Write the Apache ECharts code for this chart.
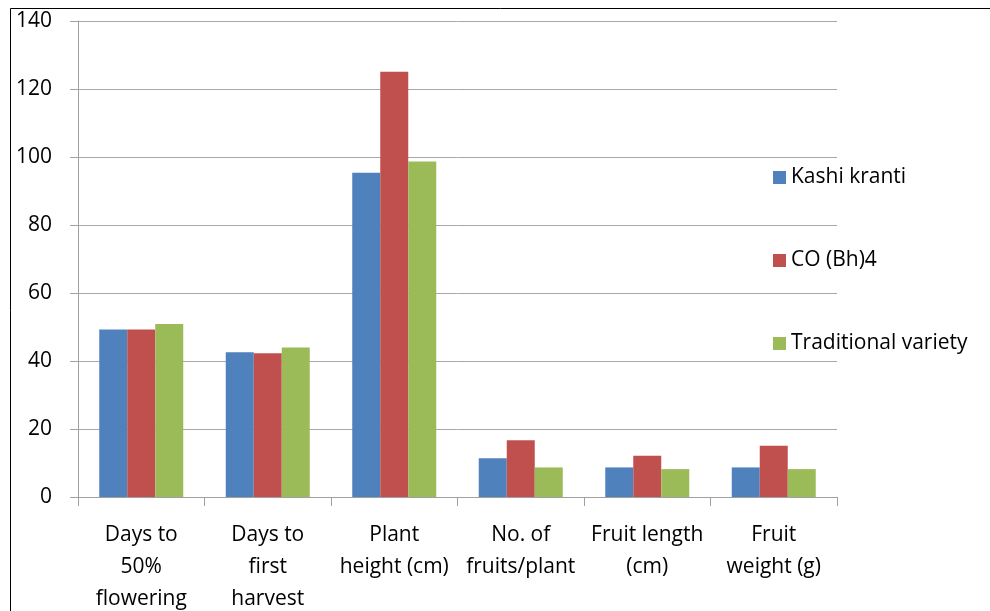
<!DOCTYPE html>
<html><head><meta charset="utf-8">
<script src="https://cdn.jsdelivr.net/npm/echarts@6/dist/echarts.min.js"></script>
<style>html,body{margin:0;padding:0;background:#fff}#c{width:990px;height:611px}</style>
</head><body><div id="c"></div>
<script>
const categories = ['Days to\n50%\nflowering','Days to\nfirst\nharvest','Plant\nheight (cm)','No. of\nfruits/plant','Fruit length\n(cm)','Fruit\nweight (g)'];
const seriesNames = ['Kashi kranti','CO (Bh)4','Traditional variety'];
const kashiKranti = [49.3, 42.6, 95.4, 11.4, 8.7, 8.7];
const coBh4 = [49.3, 42.3, 125.1, 16.7, 12.1, 15.1];
const traditional = [50.9, 44.0, 98.7, 8.7, 8.2, 8.2];
const yTicks = {min:0, max:140, interval:20};

const colors = ['#4F81BD','#C0504D','#9BBB59'];
const font = "'Liberation Sans Narrow', 'Open Sans', sans-serif";
const chart = echarts.init(document.getElementById('c'));
const values = [kashiKranti, coBh4, traditional];
chart.setOption({
  animation:false,
  graphic:[{type:'rect', shape:{x:10.5,y:8.5,width:1000,height:700}, style:{fill:'none', stroke:'#000', lineWidth:1}, silent:true}],
  grid:{left:78, right:153, top:21, bottom:114, containLabel:false, outerBoundsMode:'none'},
  legend:{
    orient:'vertical', left:768, top:162, itemGap:62, itemWidth:13, itemHeight:13,
    icon:'rect', data:seriesNames,
    textStyle:{fontFamily:font, fontSize:21, color:'#000'}
  },
  xAxis:{
    type:'category', data:categories,
    axisLine:{lineStyle:{color:'#a0a0a0'}},
    axisTick:{show:true, length:9, alignWithLabel:false, lineStyle:{color:'#a0a0a0'}},
    axisLabel:{interval:0, margin:22, lineHeight:32, fontFamily:font, fontSize:21, color:'#000'}
  },
  yAxis:{
    type:'value', min:yTicks.min, max:yTicks.max, interval:yTicks.interval,
    axisLine:{show:true, lineStyle:{color:'#a0a0a0'}},
    axisTick:{show:true, length:8, lineStyle:{color:'#a0a0a0'}},
    splitLine:{lineStyle:{color:'#a8a8a8', width:1}},
    axisLabel:{margin:26, fontFamily:font, fontSize:21, color:'#000'}
  },
  series: seriesNames.map((n,i)=>({
    name:n, type:'bar', data:values[i], barGap:'0%', barCategoryGap:'33.6%',
    itemStyle:{color:colors[i]}
  }))
});
</script></body></html>
